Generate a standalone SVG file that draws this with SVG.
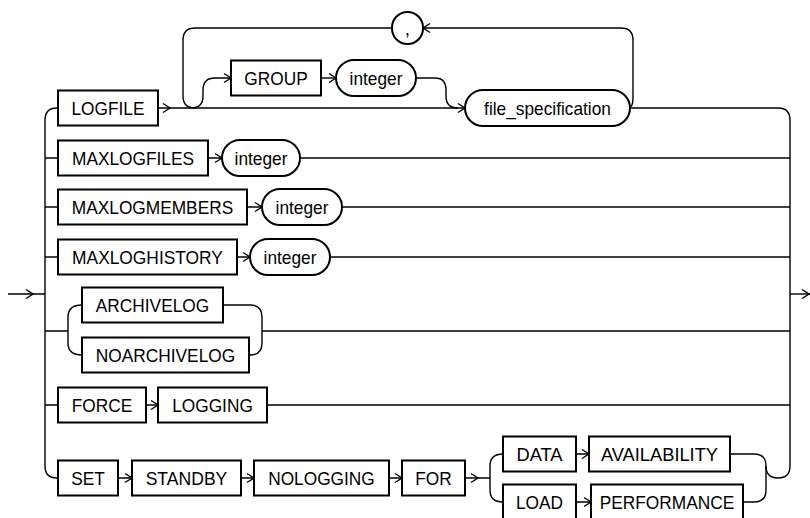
<svg xmlns="http://www.w3.org/2000/svg" xmlns:xlink="http://www.w3.org/1999/xlink" width="810" height="518" viewBox="0 0 810 518">
<style>
.box{fill:#fff;stroke:#000;stroke-width:2}
.ln{fill:none;stroke:#000;stroke-width:1.4}
text{font-family:"Liberation Sans",Arial,sans-serif;font-size:19px;text-anchor:middle;fill:#000}
</style>
<defs>
<path id="ah" d="M-7,-4.5 L0,0 L-7,4.5" fill="none" stroke="#000" stroke-width="1.4"/>
</defs>
<rect width="810" height="518" fill="#fff"/>
<g id="connectors">
<path class="ln" d="M8,294 H45"/>
<path class="ln" d="M57,108 Q45,108 45,120 V466 Q45,478 57,478"/>
<path class="ln" d="M45,158 H58 M45,207 H58 M45,257 H58 M45,331 H68 M45,405 H58"/>
<path class="ln" d="M158,108 H465"/>
<path class="ln" d="M628,108 Q633,108 633,98 V40 Q633,28 621,28 H423"/>
<path class="ln" d="M392,28 H195 Q183,28 183,40 V96 Q183,108 195,108"/>
<path class="ln" d="M191,108 Q203,108 203,96 V90 Q203,78 215,78 H231"/>
<path class="ln" d="M321,78 H336"/>
<path class="ln" d="M416,78 H435 Q446,78 446,90 V96 Q446,108 458,108"/>
<path class="ln" d="M630,108 H778 Q790,108 790,120 V466 Q790,478 778,478 Q766,478 766,466"/>
<path class="ln" d="M790,294 H810"/>
<path class="ln" d="M208,158 H222 M300,158 H790"/>
<path class="ln" d="M247,207 H262 M342,207 H790"/>
<path class="ln" d="M237,257 H250 M330,257 H790"/>
<path class="ln" d="M82,305 Q68,305 68,317 V343 Q68,355 82,355"/>
<path class="ln" d="M223,305 H250 Q262,305 262,317 V343 Q262,355 250,355 H249 M262,331 H790"/>
<path class="ln" d="M146,405 H158 M267,405 H790"/>
<path class="ln" d="M118,478 H132 M241,478 H254 M389,478 H402 M465,478 H490"/>
<path class="ln" d="M503,454 Q490,454 490,466 V490 Q490,502 503,502"/>
<path class="ln" d="M576,454 H589 M576,502 H591"/>
<path class="ln" d="M730,454 H754 Q766,454 766,466 V490 Q766,502 754,502 H743"/>
<use xlink:href="#ah" x="33" y="294"/>
<use xlink:href="#ah" x="170" y="108"/>
<use xlink:href="#ah" x="465" y="108"/>
<use xlink:href="#ah" x="231" y="78"/>
<use xlink:href="#ah" x="336" y="78"/>
<use xlink:href="#ah" transform="translate(423,28) rotate(180)"/>
<use xlink:href="#ah" x="809" y="294"/>
<use xlink:href="#ah" x="222" y="158"/>
<use xlink:href="#ah" x="262" y="207"/>
<use xlink:href="#ah" x="250" y="257"/>
<use xlink:href="#ah" x="158" y="405"/>
<use xlink:href="#ah" x="132" y="478"/>
<use xlink:href="#ah" x="254" y="478"/>
<use xlink:href="#ah" x="402" y="478"/>
<use xlink:href="#ah" x="478" y="478"/>
<use xlink:href="#ah" x="589" y="454"/>
<use xlink:href="#ah" x="591" y="502"/>
</g>
<g id="n-comma"><rect class="box" x="392" y="12" width="31" height="32" rx="15.5"/><text x="407.5" y="34.5">,</text></g>
<g id="n-logfile"><rect class="box" x="58" y="90.5" width="100" height="35"/><text x="108" y="114.5" textLength="73" lengthAdjust="spacingAndGlyphs">LOGFILE</text></g>
<g id="n-group"><rect class="box" x="231" y="60.5" width="90" height="35"/><text x="276" y="84.5" textLength="63.4" lengthAdjust="spacingAndGlyphs">GROUP</text></g>
<g id="n-integer1"><rect class="box" x="336" y="60" width="80" height="36" rx="18"/><text x="376" y="84.5" textLength="52.9" lengthAdjust="spacingAndGlyphs">integer</text></g>
<g id="n-filespec"><rect class="box" x="465" y="90" width="165" height="36" rx="18"/><text x="547.5" y="114.5" textLength="126.8" lengthAdjust="spacingAndGlyphs">file_specification</text></g>
<g id="n-maxlogfiles"><rect class="box" x="58" y="140.5" width="150" height="35"/><text x="133" y="164.5" textLength="122" lengthAdjust="spacingAndGlyphs">MAXLOGFILES</text></g>
<g id="n-integer2"><rect class="box" x="222" y="140" width="78" height="36" rx="18"/><text x="261" y="164.5" textLength="52.9" lengthAdjust="spacingAndGlyphs">integer</text></g>
<g id="n-maxlogmembers"><rect class="box" x="58" y="189.5" width="189" height="35"/><text x="152.5" y="213.5" textLength="161.4" lengthAdjust="spacingAndGlyphs">MAXLOGMEMBERS</text></g>
<g id="n-integer3"><rect class="box" x="262" y="189" width="80" height="36" rx="18"/><text x="302" y="213.5" textLength="52.9" lengthAdjust="spacingAndGlyphs">integer</text></g>
<g id="n-maxloghistory"><rect class="box" x="58" y="239.5" width="179" height="35"/><text x="147.5" y="263.5" textLength="150.8" lengthAdjust="spacingAndGlyphs">MAXLOGHISTORY</text></g>
<g id="n-integer4"><rect class="box" x="250" y="239" width="80" height="36" rx="18"/><text x="290" y="263.5" textLength="52.9" lengthAdjust="spacingAndGlyphs">integer</text></g>
<g id="n-archivelog"><rect class="box" x="82" y="287.5" width="141" height="35"/><text x="152.5" y="311.5" textLength="113.4" lengthAdjust="spacingAndGlyphs">ARCHIVELOG</text></g>
<g id="n-noarchivelog"><rect class="box" x="82" y="337.5" width="167" height="35"/><text x="165.5" y="361.5" textLength="139.3" lengthAdjust="spacingAndGlyphs">NOARCHIVELOG</text></g>
<g id="n-force"><rect class="box" x="58" y="387.5" width="88" height="35"/><text x="102" y="411.5" textLength="60.5" lengthAdjust="spacingAndGlyphs">FORCE</text></g>
<g id="n-logging"><rect class="box" x="158" y="387.5" width="109" height="35"/><text x="212.5" y="411.5" textLength="80.7" lengthAdjust="spacingAndGlyphs">LOGGING</text></g>
<g id="n-set"><rect class="box" x="58" y="460.5" width="60" height="35"/><text x="88" y="484.5" textLength="33.6" lengthAdjust="spacingAndGlyphs">SET</text></g>
<g id="n-standby"><rect class="box" x="132" y="460.5" width="109" height="35"/><text x="186.5" y="484.5" textLength="81.7" lengthAdjust="spacingAndGlyphs">STANDBY</text></g>
<g id="n-nologging"><rect class="box" x="254" y="460.5" width="135" height="35"/><text x="321.5" y="484.5" textLength="106.6" lengthAdjust="spacingAndGlyphs">NOLOGGING</text></g>
<g id="n-for"><rect class="box" x="402" y="460.5" width="63" height="35"/><text x="433.5" y="484.5" textLength="36.5" lengthAdjust="spacingAndGlyphs">FOR</text></g>
<g id="n-data"><rect class="box" x="503" y="436.5" width="73" height="35"/><text x="539.5" y="460.5" textLength="46.1" lengthAdjust="spacingAndGlyphs">DATA</text></g>
<g id="n-availability"><rect class="box" x="589" y="436.5" width="141" height="35"/><text x="659.5" y="460.5" textLength="117.1" lengthAdjust="spacingAndGlyphs">AVAILABILITY</text></g>
<g id="n-load"><rect class="box" x="503" y="484.5" width="73" height="35"/><text x="539.5" y="508.5" textLength="47.1" lengthAdjust="spacingAndGlyphs">LOAD</text></g>
<g id="n-performance"><rect class="box" x="591" y="484.5" width="152" height="35"/><text x="667" y="508.5" textLength="134.5" lengthAdjust="spacingAndGlyphs">PERFORMANCE</text></g>
</svg>
